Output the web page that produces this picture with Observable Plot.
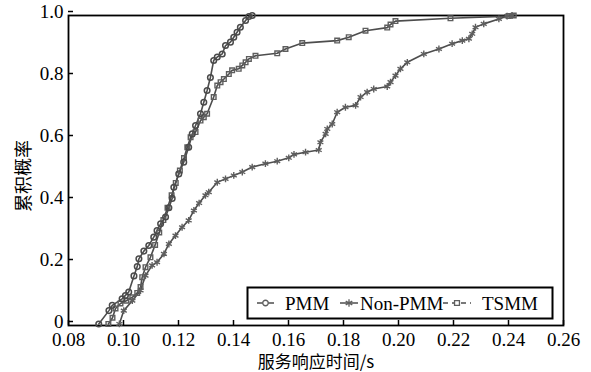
<!DOCTYPE html>
<html>
<head>
<meta charset="utf-8">
<script src="https://cdn.jsdelivr.net/npm/d3@7"></script>
<script src="https://cdn.jsdelivr.net/npm/@observablehq/plot@0.6"></script>
<style>
  html, body { margin: 0; padding: 0; background: white; }
  #wrap { position: relative; width: 591px; height: 372px; }
  #wrap svg { display: block; }
  #wrap svg text { font-family: "Liberation Serif", "DejaVu Serif", serif !important; }
  #wrap svg text.cjk { font-family: "Noto Sans CJK SC", sans-serif !important; }
  #overlay { position: absolute; left: 0; top: 0; pointer-events: none; }
</style>
</head>
<body>
<div id="wrap"></div>
<script>
// ---- data ----
const xTicks = [0.08, 0.10, 0.12, 0.14, 0.16, 0.18, 0.20, 0.22, 0.24, 0.26];
const yTicks = [0, 0.2, 0.4, 0.6, 0.8, 1.0];
const seriesNames = ["PMM", "Non-PMM", "TSMM"];
const xLabel = "服务响应时间/s";
const yLabel = "累积概率";

const pmmX = [0.0910, 0.0947, 0.0959, 0.0995, 0.1007, 0.1019, 0.1038, 0.1050, 0.1056, 0.1074, 0.1092, 0.1110, 0.1122, 0.1135, 0.1153, 0.1165, 0.1177, 0.1183, 0.1201, 0.1219, 0.1237, 0.1250, 0.1262, 0.1280, 0.1292, 0.1304, 0.1316, 0.1328, 0.1341, 0.1359, 0.1371, 0.1389, 0.1401, 0.1413, 0.1425, 0.1444, 0.1456, 0.1468];
const pmmY = [0.005, 0.048, 0.065, 0.086, 0.097, 0.108, 0.160, 0.190, 0.215, 0.240, 0.258, 0.285, 0.306, 0.328, 0.350, 0.380, 0.410, 0.446, 0.489, 0.527, 0.575, 0.618, 0.645, 0.683, 0.720, 0.758, 0.800, 0.855, 0.866, 0.876, 0.903, 0.914, 0.930, 0.946, 0.962, 0.984, 0.997, 1.0];

const nonX = [0.0985, 0.1001, 0.1032, 0.1062, 0.1080, 0.1104, 0.1122, 0.1147, 0.1165, 0.1189, 0.1213, 0.1237, 0.1256, 0.1275, 0.1298, 0.1310, 0.1341, 0.1371, 0.1401, 0.1432, 0.1468, 0.1516, 0.1559, 0.1601, 0.1620, 0.1662, 0.1710, 0.1716, 0.1735, 0.1741, 0.1759, 0.1777, 0.1807, 0.1844, 0.1862, 0.1886, 0.1910, 0.1959, 0.1971, 0.1989, 0.2007, 0.2032, 0.2092, 0.2147, 0.2195, 0.2232, 0.2256, 0.2268, 0.2280, 0.2310, 0.2365, 0.2395, 0.2413];
const nonY = [0.005, 0.048, 0.080, 0.113, 0.161, 0.194, 0.204, 0.231, 0.263, 0.290, 0.317, 0.339, 0.371, 0.395, 0.420, 0.430, 0.462, 0.473, 0.484, 0.495, 0.511, 0.522, 0.530, 0.541, 0.552, 0.559, 0.566, 0.591, 0.618, 0.634, 0.650, 0.688, 0.704, 0.710, 0.737, 0.753, 0.763, 0.771, 0.785, 0.806, 0.828, 0.849, 0.876, 0.892, 0.909, 0.919, 0.925, 0.941, 0.962, 0.973, 0.989, 0.998, 1.0];

const tsX = [0.0945, 0.0960, 0.0971, 0.0989, 0.1010, 0.1032, 0.1050, 0.1062, 0.1068, 0.1080, 0.1098, 0.1115, 0.1130, 0.1145, 0.1160, 0.1175, 0.1190, 0.1205, 0.1220, 0.1232, 0.1244, 0.1262, 0.1280, 0.1292, 0.1304, 0.1328, 0.1341, 0.1353, 0.1365, 0.1383, 0.1395, 0.1419, 0.1432, 0.1444, 0.1456, 0.1480, 0.1559, 0.1589, 0.1650, 0.1777, 0.1819, 0.1880, 0.1959, 0.1971, 0.1989, 0.2189, 0.2400, 0.2419];
const tsY = [0.005, 0.025, 0.055, 0.071, 0.080, 0.091, 0.105, 0.124, 0.156, 0.188, 0.220, 0.260, 0.300, 0.340, 0.380, 0.420, 0.460, 0.500, 0.540, 0.575, 0.607, 0.624, 0.661, 0.672, 0.683, 0.737, 0.774, 0.785, 0.795, 0.811, 0.823, 0.828, 0.839, 0.849, 0.860, 0.870, 0.878, 0.892, 0.911, 0.919, 0.930, 0.951, 0.961, 0.971, 0.982, 0.991, 0.998, 1.0];

// ---- build tables ----
const toRows = (xs, ys) => xs.map((x, i) => ({x, y: ys[i]}));
const pmm = toRows(pmmX, pmmY);
const non = toRows(nonX, nonY);
const ts = toRows(tsX, tsY);

const lineColor = "#4d4d4d";
const markColor = "#5e5e5e";

const chart = Plot.plot({
  width: 591,
  height: 372,
  marginLeft: 68,
  marginRight: 28,
  marginTop: 15,
  marginBottom: 47,
  style: {fontSize: "19px", color: "black", background: "white"},
  x: {domain: [0.08, 0.26]},
  y: {domain: [0, 1]},
  marks: [
    Plot.frame({stroke: "black", strokeWidth: 1.8}),
    Plot.axisX({ticks: xTicks, tickSize: -5, tickPadding: 12, tickFormat: d3.format(".2f"), label: null, fontSize: 19, strokeWidth: 1.5}),
    Plot.axisY({ticks: yTicks, tickSize: -5, tickPadding: 10, tickFormat: d => d === 0 ? "0" : d.toFixed(1), label: null, fontSize: 19, strokeWidth: 1.5, dy: -4}),
    Plot.line(ts, {x: "x", y: "y", stroke: lineColor, strokeWidth: 1.6}),
    Plot.line(non, {x: "x", y: "y", stroke: lineColor, strokeWidth: 1.6}),
    Plot.line(pmm, {x: "x", y: "y", stroke: lineColor, strokeWidth: 1.6}),
    Plot.dot(ts, {x: "x", y: "y", symbol: "square", r: 2.6, stroke: markColor, strokeWidth: 1.4, fill: "none"}),
    Plot.dot(non, {x: "x", y: "y", symbol: "asterisk", r: 3.2, stroke: markColor, strokeWidth: 1.4}),
    Plot.dot(pmm, {x: "x", y: "y", symbol: "circle", r: 2.8, stroke: "#4a4a4a", strokeWidth: 1.5, fill: "none"})
  ]
});

const wrap = document.getElementById("wrap");
wrap.appendChild(chart);

// ---- overlay: axis titles and legend ----
const ov = d3.select(wrap).append("svg")
  .attr("id", "overlay").attr("width", 591).attr("height", 372);

ov.append("text")
  .attr("class", "cjk")
  .attr("x", 316).attr("y", 368)
  .attr("text-anchor", "middle")
  .style("font-size", "17px")
  .text(xLabel);

ov.append("text")
  .attr("class", "cjk")
  .attr("transform", "translate(30,176) rotate(-90)")
  .attr("text-anchor", "middle")
  .style("font-size", "18px")
  .text(yLabel);

const lg = ov.append("g");
lg.append("rect").attr("x", 247.5).attr("y", 287.5).attr("width", 305).attr("height", 31)
  .attr("fill", "white").attr("stroke", "black").attr("stroke-width", 2);

const items = [
  {name: seriesNames[0], x0: 257, x1: 274, tx: 285, sym: d3.symbolCircle, dash: null},
  {name: seriesNames[1], x0: 340, x1: 358, tx: 360, sym: d3.symbolAsterisk, dash: null},
  {name: seriesNames[2], x0: 443, x1: 471, tx: 482, sym: d3.symbolSquare, dash: "5,4"}
];
const ly = 303;
items.forEach(it => {
  lg.append("line").attr("x1", it.x0).attr("x2", it.x1).attr("y1", ly).attr("y2", ly)
    .attr("stroke", lineColor).attr("stroke-width", 1.5)
    .attr("stroke-dasharray", it.dash);
  lg.append("path")
    .attr("transform", `translate(${(it.x0 + it.x1) / 2},${ly})`)
    .attr("d", d3.symbol(it.sym, it.sym === d3.symbolAsterisk ? 40 : 24)())
    .attr("fill", it.sym === d3.symbolAsterisk ? "none" : "white")
    .attr("stroke", markColor).attr("stroke-width", 1.3);
  lg.append("text").attr("x", it.tx).attr("y", ly + 6.5)
    .style("font-size", "19px")
    .text(it.name);
});
</script>
</body>
</html>
